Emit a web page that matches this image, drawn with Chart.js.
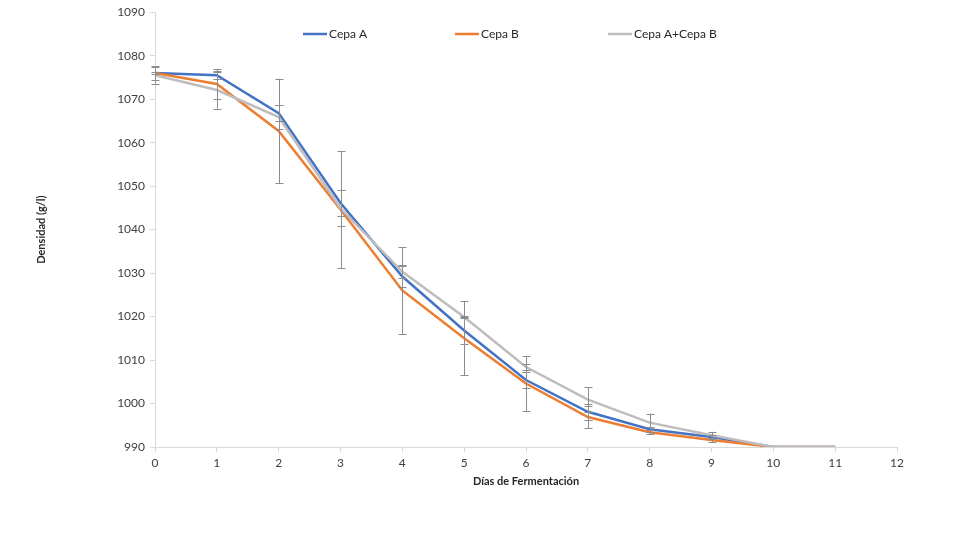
<!DOCTYPE html>
<html><head><meta charset="utf-8">
<script src="https://cdn.jsdelivr.net/npm/chart.js@4.4.1/dist/chart.umd.min.js"></script>
<style>html,body{margin:0;padding:0;background:#fff}#wrap{width:980px;height:560px}</style>
</head><body><div id="wrap"><canvas id="c" width="980" height="560"></canvas></div>
<script>
const days = [0,1,2,3,4,5,6,7,8,9,10,11];
const seriesNames = ['Cepa A','Cepa B','Cepa A+Cepa B'];
const cepaA  = [1076.0,1075.5,1066.8,1046.1,1029.2,1016.8,1005.4,998.1,994.1,992.3,990,990];
const cepaB  = [1076.0,1073.5,1062.7,1044.6,1026.0,1015.0,1004.6,996.9,993.4,991.6,990,990];
const cepaAB = [1075.5,1072.1,1065.9,1044.9,1030.3,1019.9,1008.4,1000.9,995.6,992.7,990,990];
const errA  = [1.6,0.8,1.9,2.9,2.5,3.0,1.9,1.9,0.6,0.5,0,0];
const errB  = [0.3,3.5,12.0,13.5,10.0,8.5,6.3,2.6,0.5,0.5,0,0];
const errAB = [2.0,4.3,2.8,4.1,1.5,0.3,0.6,2.9,2.1,0.8,0,0];
const xTicks = [0,1,2,3,4,5,6,7,8,9,10,11,12];
const yTicks = [990,1000,1010,1020,1030,1040,1050,1060,1070,1080,1090];

const colors = ['#4472C4','#ED7D31','#BDBDBD'];
const FONT = 'Lato, "Open Sans", sans-serif';

function pts(arr){ return days.map((d,i)=>({x:d,y:arr[i]})); }

const errPlugin = {
  id:'errbars',
  afterDatasetsDraw(chart){
    const ctx = chart.ctx, xs = chart.scales.x, ys = chart.scales.y;
    const sets = [[cepaA,errA],[cepaB,errB],[cepaAB,errAB]];
    ctx.save();
    ctx.strokeStyle = '#8c8c8c';
    ctx.lineWidth = 1;
    sets.forEach(([vals,errs])=>{
      days.forEach((d,i)=>{
        if(!errs[i]) return;
        const px = Math.round(xs.getPixelForValue(d))+0.5;
        const top = ys.getPixelForValue(vals[i]+errs[i]);
        const bot = ys.getPixelForValue(vals[i]-errs[i]);
        ctx.beginPath();
        ctx.moveTo(px,top); ctx.lineTo(px,bot);
        ctx.moveTo(px-4,Math.round(top)+0.5); ctx.lineTo(px+4,Math.round(top)+0.5);
        ctx.moveTo(px-4,Math.round(bot)+0.5); ctx.lineTo(px+4,Math.round(bot)+0.5);
        ctx.stroke();
      });
    });
    ctx.restore();
  }
};

const legendPlugin = {
  id:'customLegend',
  afterDraw(chart){
    const ctx = chart.ctx;
    const starts = [303,455,608];
    const y = 34;
    ctx.save();
    ctx.font = '12px ' + FONT;
    ctx.textBaseline = 'middle';
    ctx.fillStyle = '#262626';
    seriesNames.forEach((n,i)=>{
      ctx.strokeStyle = colors[i];
      ctx.lineWidth = 2.5;
      ctx.beginPath(); ctx.moveTo(starts[i],y); ctx.lineTo(starts[i]+24,y); ctx.stroke();
      ctx.fillText(n, starts[i]+26, y);
    });
    ctx.restore();
  }
};

new Chart(document.getElementById('c'),{
  type:'line',
  data:{datasets:[
    {label:seriesNames[0],data:pts(cepaA),borderColor:colors[0],borderWidth:2.5,pointRadius:0,tension:0,order:2},
    {label:seriesNames[1],data:pts(cepaB),borderColor:colors[1],borderWidth:2.5,pointRadius:0,tension:0,order:1},
    {label:seriesNames[2],data:pts(cepaAB),borderColor:colors[2],borderWidth:2.5,pointRadius:0,tension:0,order:0}
  ]},
  options:{
    responsive:false, animation:false, devicePixelRatio:1,
    layout:{padding:{left:31,right:83,top:11,bottom:68}},
    plugins:{legend:{display:false},tooltip:{enabled:false}},
    scales:{
      x:{type:'linear',min:0,max:12,
        afterBuildTicks(s){ s.ticks = xTicks.map(v=>({value:v})); },
        afterFit(s){ s.height = 45; },
        grid:{display:true,drawOnChartArea:false,drawTicks:true,tickLength:5,color:'#d9d9d9'},
        border:{display:true,color:'#d9d9d9'},
        ticks:{font:{family:FONT,size:12},color:'#404040',padding:4,maxRotation:0,callback:v=>String(v)},
        title:{display:true,text:'Días de Fermentación',font:{family:FONT,size:11,weight:'bold'},color:'#262626',padding:{top:4,bottom:4}}
      },
      y:{type:'linear',min:990,max:1090,
        afterBuildTicks(s){ s.ticks = yTicks.map(v=>({value:v})); },
        afterFit(s){ s.width = 124; },
        grid:{display:true,drawOnChartArea:false,drawTicks:true,tickLength:5,color:'#d9d9d9'},
        border:{display:true,color:'#d9d9d9'},
        ticks:{font:{family:FONT,size:12},color:'#404040',padding:5,callback:v=>String(v)},
        title:{display:true,text:'Densidad (g/l)',font:{family:FONT,size:11,weight:'bold'},color:'#262626',padding:{top:4,bottom:4}}
      }
    }
  },
  plugins:[errPlugin,legendPlugin]
});
</script></body></html>
